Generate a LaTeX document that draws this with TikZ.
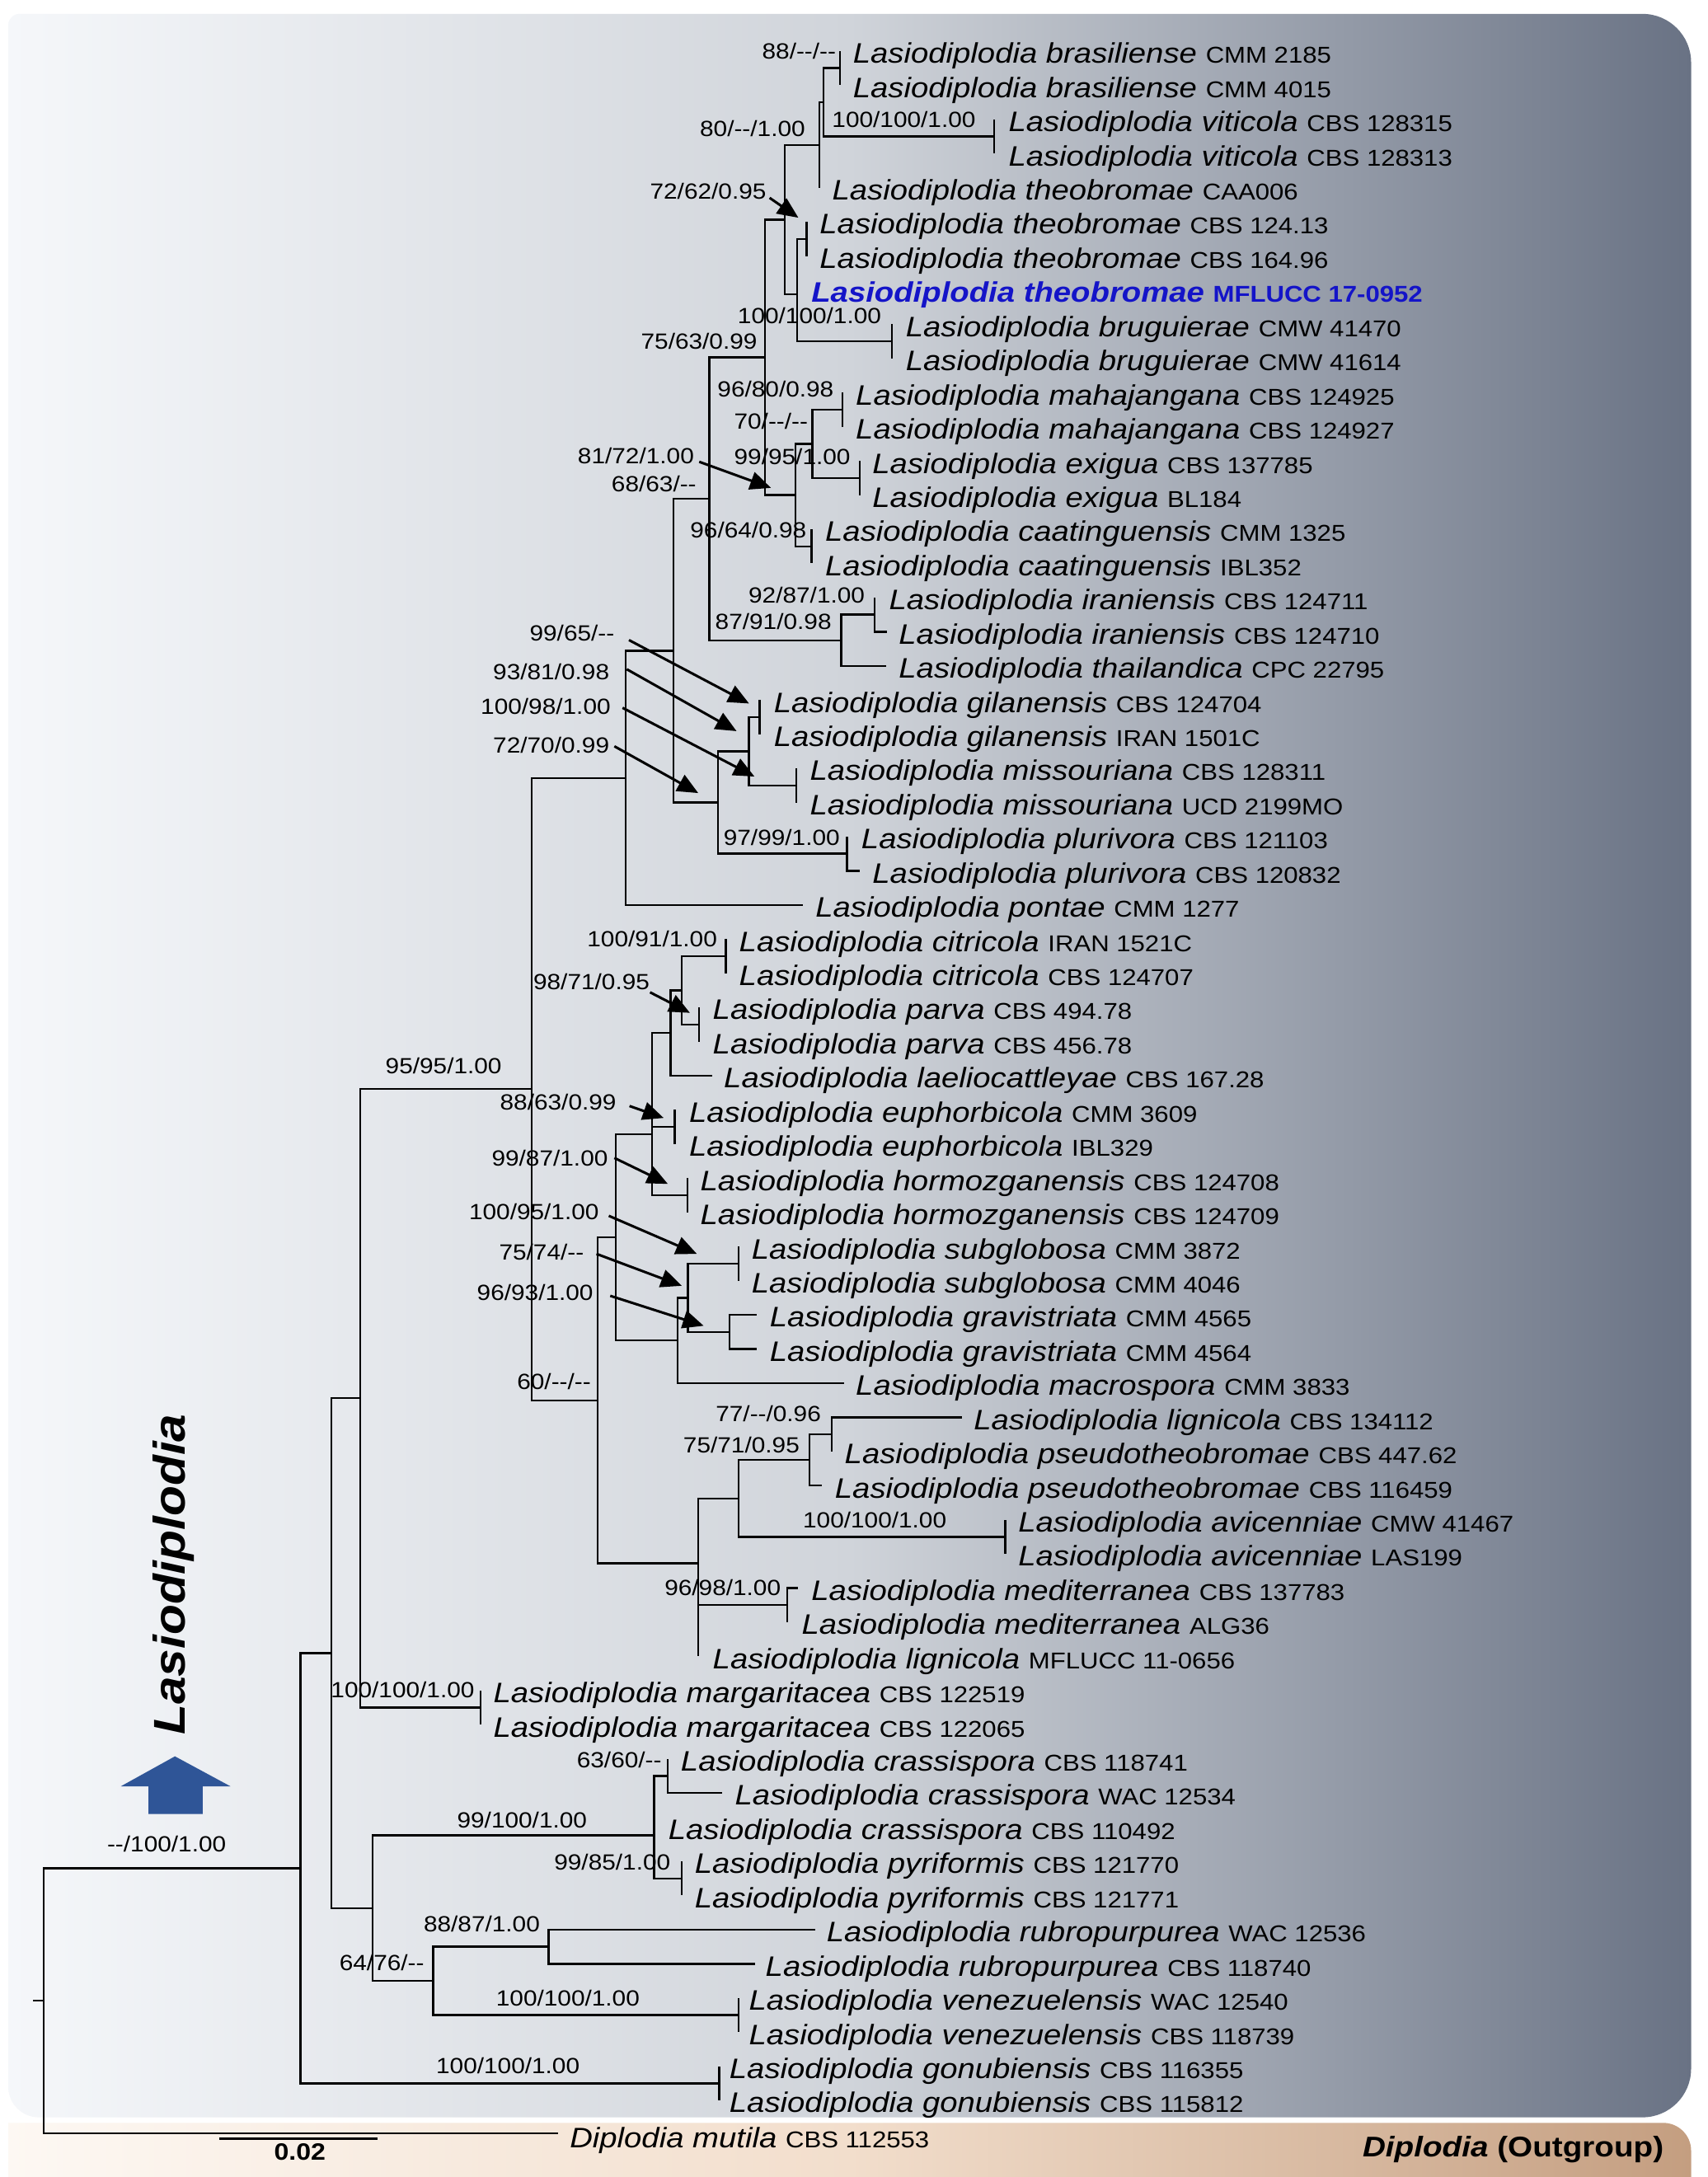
\documentclass[tikz,border=0pt]{standalone}
\usepackage{fontspec}
\setmainfont{Liberation Sans}[FakeStretch=1.12,Ligatures=TeXOff]
\usetikzlibrary{arrows.meta}
\definecolor{blueT}{RGB}{20,20,200}
\definecolor{arrowblue}{RGB}{47,85,151}
\definecolor{bgL}{RGB}{245,247,250}
\definecolor{bgM}{RGB}{208,212,218}
\definecolor{bgR}{RGB}{105,114,132}
\definecolor{pkL}{RGB}{253,248,243}
\definecolor{pkM}{RGB}{242,222,204}
\definecolor{pkR}{RGB}{196,158,128}
\newcommand{\fsp}{\fontsize{10.15}{12}\selectfont}
\newcommand{\fst}{\fontsize{8.25}{10}\selectfont}
\newcommand{\flab}{\fontsize{7.9}{9}\selectfont}
\newcommand{\LS}[2]{{\fsp\itshape Lasiodiplodia #1 }{\fst #2}}
\begin{document}
\begin{tikzpicture}[x=0.5pt,y=-0.5pt,
  br/.style={line width=0.72pt},
  tx/.style={anchor=base west,inner sep=0pt},
  lab/.style={inner sep=0pt,font=\flab},
  arr/.style={line width=0.9pt,-{Triangle[length=7.5pt,width=6.5pt]}}]
\useasboundingbox (0,0) rectangle (1230,1568);
\fill[white] (0,0) rectangle (1230,1568);
% backgrounds
\shade[left color=bgL,right color=bgR,middle color=bgM]
  (6,18) .. controls (6,13.6) and (9.6,10) .. (14,10)
  -- (1183,10) .. controls (1202.3,10) and (1218,25.7) .. (1218,45)
  -- (1218,1490) .. controls (1218,1509.3) and (1202.3,1525) .. (1183,1525)
  -- (28,1525) .. controls (15.8,1525) and (6,1515.2) .. (6,1503) -- cycle;
\shade[left color=pkL,right color=pkR,middle color=pkM]
  (6,1568) -- (6,1529) -- (1198,1529) .. controls (1209,1529) and (1218,1538) .. (1218,1549)
  -- (1218,1568) -- cycle;
% genus label and arrow
\node[rotate=90,inner sep=0pt] (genus) at (125,1134) {\fontsize{16}{18}\selectfont\bfseries\itshape Lasiodiplodia};
\fill[arrowblue] (126,1265) -- (166,1286.6) -- (146,1286.6) -- (146,1306.6) -- (107,1306.6) -- (107,1286.6) -- (87,1286.6) -- cycle;
% internal nodes
\coordinate (nBra) at (605,49.1);
\coordinate (nVit) at (716,98.3);
\coordinate (nA) at (593,73.7);
\coordinate (nB) at (590,104.4);
\coordinate (nTh) at (581,172.1);
\coordinate (nBru) at (642.4,245.9);
\coordinate (nD) at (574,212);
\coordinate (nC) at (565.2,158.2);
\coordinate (nMah) at (606.8,295.1);
\coordinate (nExi) at (619.3,344.3);
\coordinate (nH) at (585,319.7);
\coordinate (nCaa) at (584.5,393.5);
\coordinate (nG) at (573,356.6);
\coordinate (nE) at (551,257.4);
\coordinate (nIra) at (630,442.7);
\coordinate (nJ) at (606,461.2);
\coordinate (nF) at (511,359.3);
\coordinate (nGil) at (547,516.5);
\coordinate (nMis) at (573.5,565.7);
\coordinate (nN) at (539.5,541.1);
\coordinate (nPlu) at (610,614.9);
\coordinate (nM) at (517,578);
\coordinate (nI) at (485,468.7);
\coordinate (nK) at (450.5,560.3);
\coordinate (nCit) at (522.7,688.7);
\coordinate (nPar) at (503.4,737.9);
\coordinate (nO) at (491,713.3);
\coordinate (nP) at (483,744);
\coordinate (nEup) at (486,811.7);
\coordinate (nHor) at (495,860.9);
\coordinate (nQ) at (469.5,817);
\coordinate (nSub) at (532,910.1);
\coordinate (nGra) at (525.6,959.3);
\coordinate (nS) at (495.5,934.7);
\coordinate (nT) at (488,965.5);
\coordinate (nR) at (443.5,891.3);
\coordinate (nY) at (599,1033.1);
\coordinate (nX) at (583,1051.6);
\coordinate (nAvi) at (724,1106.9);
\coordinate (nW) at (532,1079.3);
\coordinate (nMed) at (567,1156.1);
\coordinate (nV) at (503,1126);
\coordinate (nU) at (430.5,1008.6);
\coordinate (nL) at (383,784.3);
\coordinate (nMar) at (346,1229.9);
\coordinate (nZ) at (259.3,1007);
\coordinate (nAE) at (481,1279.1);
\coordinate (nPyr) at (491,1352.9);
\coordinate (nAC) at (471.2,1322);
\coordinate (nAF) at (395,1402.1);
\coordinate (nVen) at (532,1451.3);
\coordinate (nAD) at (312,1426.7);
\coordinate (nAB) at (268.3,1374.4);
\coordinate (nAA) at (238.6,1190.7);
\coordinate (nGon) at (518,1500.5);
\coordinate (nAG) at (216.5,1345.6);
\coordinate (root) at (31.6,1441);
\coordinate (stub) at (24,1441);
% leaf tips
\coordinate (l1) at (605,36.8);
\coordinate (l2) at (605,61.4);
\coordinate (l3) at (716,86);
\coordinate (l4) at (716,110.6);
\coordinate (l5) at (590,135.2);
\coordinate (l6) at (581,159.8);
\coordinate (l7) at (581,184.4);
\coordinate (l8) at (574,209);
\coordinate (l9) at (642.4,233.6);
\coordinate (l10) at (642.4,258.2);
\coordinate (l11) at (606.8,282.8);
\coordinate (l12) at (606.8,307.4);
\coordinate (l13) at (619.3,332);
\coordinate (l14) at (619.3,356.6);
\coordinate (l15) at (584.5,381.2);
\coordinate (l16) at (584.5,405.8);
\coordinate (l17) at (630,430.4);
\coordinate (l18) at (639,455);
\coordinate (l19) at (638,479.6);
\coordinate (l20) at (547,504.2);
\coordinate (l21) at (547,528.8);
\coordinate (l22) at (573.5,553.4);
\coordinate (l23) at (573.5,578);
\coordinate (l24) at (610,602.6);
\coordinate (l25) at (619,627.2);
\coordinate (l26) at (578,651.8);
\coordinate (l27) at (522.7,676.4);
\coordinate (l28) at (522.7,701);
\coordinate (l29) at (503.4,725.6);
\coordinate (l30) at (503.4,750.2);
\coordinate (l31) at (513,774.8);
\coordinate (l32) at (486,799.4);
\coordinate (l33) at (486,824);
\coordinate (l34) at (495,848.6);
\coordinate (l35) at (495,873.2);
\coordinate (l36) at (532,897.8);
\coordinate (l37) at (532,922.4);
\coordinate (l38) at (545,947);
\coordinate (l39) at (545,971.6);
\coordinate (l40) at (608,996.2);
\coordinate (l41) at (693,1020.8);
\coordinate (l42) at (599,1045.4);
\coordinate (l43) at (592,1070);
\coordinate (l44) at (724,1094.6);
\coordinate (l45) at (724,1119.2);
\coordinate (l46) at (575,1143.8);
\coordinate (l47) at (567,1168.4);
\coordinate (l48) at (503,1193);
\coordinate (l49) at (346,1217.6);
\coordinate (l50) at (346,1242.2);
\coordinate (l51) at (481,1266.8);
\coordinate (l52) at (520,1291.4);
\coordinate (l53) at (471.2,1316);
\coordinate (l54) at (491,1340.6);
\coordinate (l55) at (491,1365.2);
\coordinate (l56) at (587,1389.8);
\coordinate (l57) at (544,1414.4);
\coordinate (l58) at (532,1439);
\coordinate (l59) at (532,1463.6);
\coordinate (l60) at (518,1488.2);
\coordinate (l61) at (518,1512.8);
\coordinate (l62) at (402,1536.5);
% branches
\foreach \p/\c in {nA/nBra,nA/nVit,nBra/l1,nBra/l2,nVit/l3,nVit/l4,nB/nA,nB/l5,
  nTh/l6,nTh/l7,nBru/l9,nBru/l10,nD/nTh,nD/l8,nD/nBru,nC/nB,nC/nD,
  nMah/l11,nMah/l12,nExi/l13,nExi/l14,nH/nMah,nH/nExi,nCaa/l15,nCaa/l16,
  nG/nH,nG/nCaa,nE/nC,nE/nG,nIra/l17,nIra/l18,nJ/nIra,nJ/l19,nF/nE,nF/nJ,
  nGil/l20,nGil/l21,nMis/l22,nMis/l23,nN/nGil,nN/nMis,nPlu/l24,nPlu/l25,
  nM/nN,nM/nPlu,nI/nF,nI/nM,nK/nI,nK/l26,nCit/l27,nCit/l28,nPar/l29,nPar/l30,
  nO/nCit,nO/nPar,nP/nO,nP/l31,nEup/l32,nEup/l33,nHor/l34,nHor/l35,
  nQ/nP,nQ/nEup,nQ/nHor,nSub/l36,nSub/l37,nGra/l38,nGra/l39,nS/nSub,nS/nGra,
  nT/nS,nT/l40,nR/nQ,nR/nT,nY/l41,nY/l42,nX/nY,nX/l43,nAvi/l44,nAvi/l45,
  nW/nX,nW/nAvi,nMed/l46,nMed/l47,nV/nW,nV/nMed,nV/l48,nU/nR,nU/nV,
  nL/nK,nL/nU,nMar/l49,nMar/l50,nZ/nL,nZ/nMar,nAE/l51,nAE/l52,nPyr/l54,nPyr/l55,
  nAC/nAE,nAC/l53,nAC/nPyr,nAF/l56,nAF/l57,nVen/l58,nVen/l59,nAD/nAF,nAD/nVen,
  nAB/nAC,nAB/nAD,nAA/nZ,nAA/nAB,nGon/l60,nGon/l61,nAG/nAA,nAG/nGon,
  root/nAG,root/l62}
  {\draw[br] (\p) |- (\c);}
\draw[br] (stub) -- (root);
% taxon names
\node[tx] (t1) at (614,45.6) {\LS{brasiliense}{CMM 2185}};
\node[tx] (t2) at (614,70.2) {\LS{brasiliense}{CMM 4015}};
\node[tx] (t3) at (726,94.8) {\LS{viticola}{CBS 128315}};
\node[tx] (t4) at (726,119.4) {\LS{viticola}{CBS 128313}};
\node[tx] (t5) at (599,144) {\LS{theobromae}{CAA006}};
\node[tx] (t6) at (590,168.6) {\LS{theobromae}{CBS 124.13}};
\node[tx] (t7) at (590,193.2) {\LS{theobromae}{CBS 164.96}};
\node[tx,text=blueT] (t8) at (584,217.8) {{\fsp\bfseries\itshape Lasiodiplodia theobromae }{\fst\bfseries MFLUCC 17-0952}};
\node[tx] (t9) at (652,242.4) {\LS{bruguierae}{CMW 41470}};
\node[tx] (t10) at (652,267) {\LS{bruguierae}{CMW 41614}};
\node[tx] (t11) at (616,291.6) {\LS{mahajangana}{CBS 124925}};
\node[tx] (t12) at (616,316.2) {\LS{mahajangana}{CBS 124927}};
\node[tx] (t13) at (628,340.8) {\LS{exigua}{CBS 137785}};
\node[tx] (t14) at (628,365.4) {\LS{exigua}{BL184}};
\node[tx] (t15) at (594,390) {\LS{caatinguensis}{CMM 1325}};
\node[tx] (t16) at (594,414.6) {\LS{caatinguensis}{IBL352}};
\node[tx] (t17) at (640,439.2) {\LS{iraniensis}{CBS 124711}};
\node[tx] (t18) at (647,463.8) {\LS{iraniensis}{CBS 124710}};
\node[tx] (t19) at (647,488.4) {\LS{thailandica}{CPC 22795}};
\node[tx] (t20) at (557,513) {\LS{gilanensis}{CBS 124704}};
\node[tx] (t21) at (557,537.6) {\LS{gilanensis}{IRAN 1501C}};
\node[tx] (t22) at (583,562.2) {\LS{missouriana}{CBS 128311}};
\node[tx] (t23) at (583,586.8) {\LS{missouriana}{UCD 2199MO}};
\node[tx] (t24) at (620,611.4) {\LS{plurivora}{CBS 121103}};
\node[tx] (t25) at (628,636) {\LS{plurivora}{CBS 120832}};
\node[tx] (t26) at (587,660.6) {\LS{pontae}{CMM 1277}};
\node[tx] (t27) at (532,685.2) {\LS{citricola}{IRAN 1521C}};
\node[tx] (t28) at (532,709.8) {\LS{citricola}{CBS 124707}};
\node[tx] (t29) at (513,734.4) {\LS{parva}{CBS 494.78}};
\node[tx] (t30) at (513,759) {\LS{parva}{CBS 456.78}};
\node[tx] (t31) at (521,783.6) {\LS{laeliocattleyae}{CBS 167.28}};
\node[tx] (t32) at (496,808.2) {\LS{euphorbicola}{CMM 3609}};
\node[tx] (t33) at (496,832.8) {\LS{euphorbicola}{IBL329}};
\node[tx] (t34) at (504,857.4) {\LS{hormozganensis}{CBS 124708}};
\node[tx] (t35) at (504,882) {\LS{hormozganensis}{CBS 124709}};
\node[tx] (t36) at (541,906.6) {\LS{subglobosa}{CMM 3872}};
\node[tx] (t37) at (541,931.2) {\LS{subglobosa}{CMM 4046}};
\node[tx] (t38) at (554,955.8) {\LS{gravistriata}{CMM 4565}};
\node[tx] (t39) at (554,980.4) {\LS{gravistriata}{CMM 4564}};
\node[tx] (t40) at (616,1005) {\LS{macrospora}{CMM 3833}};
\node[tx] (t41) at (701,1029.6) {\LS{lignicola}{CBS 134112}};
\node[tx] (t42) at (608,1054.2) {\LS{pseudotheobromae}{CBS 447.62}};
\node[tx] (t43) at (601,1078.8) {\LS{pseudotheobromae}{CBS 116459}};
\node[tx] (t44) at (733,1103.4) {\LS{avicenniae}{CMW 41467}};
\node[tx] (t45) at (733,1128) {\LS{avicenniae}{LAS199}};
\node[tx] (t46) at (584,1152.6) {\LS{mediterranea}{CBS 137783}};
\node[tx] (t47) at (577,1177.2) {\LS{mediterranea}{ALG36}};
\node[tx] (t48) at (513,1201.8) {\LS{lignicola}{MFLUCC 11-0656}};
\node[tx] (t49) at (355,1226.4) {\LS{margaritacea}{CBS 122519}};
\node[tx] (t50) at (355,1251) {\LS{margaritacea}{CBS 122065}};
\node[tx] (t51) at (490,1275.6) {\LS{crassispora}{CBS 118741}};
\node[tx] (t52) at (529,1300.2) {\LS{crassispora}{WAC 12534}};
\node[tx] (t53) at (481,1324.8) {\LS{crassispora}{CBS 110492}};
\node[tx] (t54) at (500,1349.4) {\LS{pyriformis}{CBS 121770}};
\node[tx] (t55) at (500,1374) {\LS{pyriformis}{CBS 121771}};
\node[tx] (t56) at (595,1398.6) {\LS{rubropurpurea}{WAC 12536}};
\node[tx] (t57) at (551,1423.2) {\LS{rubropurpurea}{CBS 118740}};
\node[tx] (t58) at (539,1447.8) {\LS{venezuelensis}{WAC 12540}};
\node[tx] (t59) at (539,1472.4) {\LS{venezuelensis}{CBS 118739}};
\node[tx] (t60) at (525,1497) {\LS{gonubiensis}{CBS 116355}};
\node[tx] (t61) at (525,1521.6) {\LS{gonubiensis}{CBS 115812}};
\node[tx] (t62) at (410,1547) {{\fsp\itshape Diplodia mutila }{\fst CBS 112553}};
% support values
\node[lab] (lb1) at (575.5,37) {88/--/--};
\node[lab] (lb2) at (651,86) {100/100/1.00};
\node[lab] (lb3) at (542,92.5) {80/--/1.00};
\node[lab] (lb4) at (510,138) {72/62/0.95};
\node[lab] (lb5) at (583,227.5) {100/100/1.00};
\node[lab] (lb6) at (503.5,245.5) {75/63/0.99};
\node[lab] (lb7) at (558.6,280.5) {96/80/0.98};
\node[lab] (lb8) at (555.3,303.5) {70/--/--};
\node[lab] (lb9) at (458,328.6) {81/72/1.00};
\node[lab] (lb10) at (570.6,329) {99/95/1.00};
\node[lab] (lb11) at (471,348.5) {68/63/--};
\node[lab] (lb12) at (539,382) {96/64/0.98};
\node[lab] (lb13) at (581,428.6) {92/87/1.00};
\node[lab] (lb14) at (557,447.5) {87/91/0.98};
\node[lab] (lb15) at (412,456) {99/65/--};
\node[lab] (lb16) at (397,484) {93/81/0.98};
\node[lab] (lb17) at (393,509) {100/98/1.00};
\node[lab] (lb18) at (397,536.5) {72/70/0.99};
\node[lab] (lb19) at (563,603.4) {97/99/1.00};
\node[lab] (lb20) at (469.7,676) {100/91/1.00};
\node[lab] (lb21) at (426,707.3) {98/71/0.95};
\node[lab] (lb22) at (319.5,767.5) {95/95/1.00};
\node[lab] (lb23) at (402,794) {88/63/0.99};
\node[lab] (lb24) at (396,834) {99/87/1.00};
\node[lab] (lb25) at (384.6,872.6) {100/95/1.00};
\node[lab] (lb26) at (390,902) {75/74/--};
\node[lab] (lb27) at (385.4,931) {96/93/1.00};
\node[lab] (lb28) at (399,995) {60/--/--};
\node[lab] (lb29) at (553.4,1018.3) {77/--/0.96};
\node[lab] (lb30) at (534,1040.5) {75/71/0.95};
\node[lab] (lb31) at (630,1095) {100/100/1.00};
\node[lab] (lb32) at (520.5,1143.4) {96/98/1.00};
\node[lab] (lb33) at (290,1217) {100/100/1.00};
\node[lab] (lb34) at (446,1267.5) {63/60/--};
\node[lab] (lb35) at (376,1311) {99/100/1.00};
\node[lab] (lb36) at (441,1341) {99/85/1.00};
\node[lab] (lb37) at (347,1386) {88/87/1.00};
\node[lab] (lb38) at (275,1413.5) {64/76/--};
\node[lab] (lb39) at (409,1439) {100/100/1.00};
\node[lab] (lb40) at (365.8,1487.8) {100/100/1.00};
\node[lab] (lb41) at (120,1328) {--/100/1.00};
% arrows from labels
\coordinate (a1s) at (554.3,142.5);  \coordinate (a1e) at (575,156.8);
\coordinate (a2s) at (503.6,332.6);  \coordinate (a2e) at (555.3,351.4);
\coordinate (a3s) at (453,461);      \coordinate (a3e) at (539.5,506.7);
\coordinate (a4s) at (451.4,482);    \coordinate (a4e) at (530.5,526.6);
\coordinate (a5s) at (448.4,509.8);  \coordinate (a5e) at (543.4,559.3);
\coordinate (a6s) at (442.5,537.5);  \coordinate (a6e) at (502.9,571.2);
\coordinate (a7s) at (468.2,714.7);  \coordinate (a7e) at (496.9,729.5);
\coordinate (a8s) at (453.4,796.6);  \coordinate (a8e) at (478,805.2);
\coordinate (a9s) at (442.5,834);    \coordinate (a9e) at (481,852.7);
\coordinate (a10s) at (438.5,875.7); \coordinate (a10e) at (501.9,903.1);
\coordinate (a11s) at (429.6,903.1); \coordinate (a11e) at (491,926.1);
\coordinate (a12s) at (439.5,933.3); \coordinate (a12e) at (506.8,954.9);
\foreach \i in {1,...,12} {\draw[arr] (a\i s) -- (a\i e);}
% scale bar
\coordinate (sb1) at (157.7,1540.3);
\coordinate (sb2) at (272,1540.3);
\draw[line width=1pt] (sb1) -- (sb2);
\node[inner sep=0pt] (sbl) at (216,1550) {\fontsize{8.5}{10}\selectfont\bfseries 0.02};
% outgroup label
\node[anchor=east,inner sep=0pt] (outg) at (1198.6,1548) {\fontsize{10.25}{12}\selectfont\bfseries\itshape Diplodia \upshape(Outgroup)};
\end{tikzpicture}
\end{document}
